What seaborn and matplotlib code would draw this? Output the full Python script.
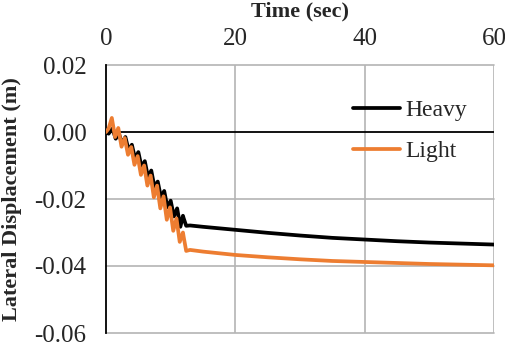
import matplotlib
matplotlib.use("Agg")
import matplotlib.pyplot as plt
import seaborn as sns
import pandas as pd
from matplotlib.ticker import FixedLocator, FuncFormatter

# ---- data ----
heavy_t = [0, 0.4, 1.0, 1.5, 2.0, 2.5, 3.0, 3.5, 4.0, 4.5, 5.0, 5.5, 6.0, 6.5, 7.0,
           7.5, 8.0, 8.5, 9.0, 9.5, 10.0, 10.5, 11.0, 11.5, 11.9, 12.0, 12.4,
           13, 15, 20, 25, 30, 35, 40, 45, 50, 55, 60]
heavy_v = [0.0, -0.0005, 0.0010, -0.0020, -0.0005, -0.0035, -0.0015, -0.0055, -0.0038,
           -0.0080, -0.0060, -0.0105, -0.0087, -0.0135, -0.0115, -0.0165, -0.0148,
           -0.0195, -0.0176, -0.0225, -0.0205, -0.0252, -0.0228, -0.0283, -0.0250,
           -0.0257, -0.0280, -0.0279, -0.0283, -0.0292, -0.0301, -0.0309, -0.0316,
           -0.0321, -0.0326, -0.0330, -0.0333, -0.0336]

light_t = [0, 0.4, 0.9, 1.4, 1.9, 2.4, 2.9, 3.4, 3.9, 4.4, 4.9, 5.4, 5.9, 6.4, 6.9,
           7.4, 7.9, 8.4, 8.9, 9.4, 9.9, 10.4, 10.9, 11.4, 11.9, 12.0, 12.4,
           13, 15, 20, 25, 30, 35, 40, 45, 50, 55, 60]
light_v = [0.0, 0.0010, 0.0042, -0.0015, 0.0012, -0.0044, -0.0018, -0.0068, -0.0045,
           -0.0098, -0.0072, -0.0128, -0.0100, -0.0160, -0.0130, -0.0195, -0.0160,
           -0.0228, -0.0192, -0.0262, -0.0225, -0.0295, -0.0258, -0.0328, -0.0300,
           -0.0312, -0.0355, -0.0352, -0.0357, -0.0367, -0.0374, -0.0380, -0.0385,
           -0.0388, -0.0391, -0.0394, -0.0396, -0.0398]

series_names = ["Heavy", "Light"]
series_colors = ["#000000", "#ED7D31"]
x_ticks = [0, 20, 40, 60]
y_ticks = [0.02, 0.00, -0.02, -0.04, -0.06]
x_label = "Time (sec)"
y_label = "Lateral Displacement (m)"

df = pd.concat([
    pd.DataFrame({"t": heavy_t, "v": heavy_v, "series": series_names[0]}),
    pd.DataFrame({"t": light_t, "v": light_v, "series": series_names[1]}),
], ignore_index=True)

sns.set_style("white")
plt.rcParams["font.family"] = ["Liberation Serif", "DejaVu Serif"]
plt.rcParams["axes.unicode_minus"] = False

fig = plt.figure(figsize=(5.05, 3.44), dpi=100)
ax = fig.add_axes([106 / 505, 1 - 333 / 344, 388 / 505, 268 / 344])

grid_c = "#B4B4B4"
for xv in x_ticks[1:]:
    ax.axvline(xv, color=grid_c, lw=1.2, zorder=0)
for yv in y_ticks:
    if yv != 0:
        ax.axhline(yv, color=grid_c, lw=1.2, zorder=0, clip_on=False)
ax.axhline(0, color="black", lw=1.3, zorder=1)

sns.lineplot(data=df, x="t", y="v", hue="series", palette=series_colors,
             hue_order=series_names, estimator=None, sort=False, lw=2.7, ax=ax, zorder=3)

ax.set_xlim(0, 60)
ax.set_ylim(-0.06, 0.02)
ax.xaxis.tick_top()
ax.xaxis.set_label_position("top")
ax.xaxis.set_major_locator(FixedLocator(x_ticks))
ax.yaxis.set_major_locator(FixedLocator(y_ticks))
ax.yaxis.set_major_formatter(FuncFormatter(lambda v, p: f"{v:.2f}" if abs(v) > 1e-9 else "0.00"))
ax.tick_params(axis="x", length=0, labelsize=18, pad=11)
ax.tick_params(axis="y", length=0, labelsize=18, pad=14)
ax.set_xlabel(x_label, fontsize=16, fontweight="bold", labelpad=8)
ax.set_ylabel(y_label, fontsize=16, fontweight="bold", labelpad=9)

for s in ["top", "right", "bottom"]:
    ax.spines[s].set_visible(False)
ax.spines["left"].set_color("black")
ax.spines["left"].set_linewidth(1.3)

ax.legend(frameon=False, loc="upper left", bbox_to_anchor=(0.637, 0.872),
          borderpad=0, borderaxespad=0, handlelength=2.0, handletextpad=0.2,
          labelspacing=0.85, fontsize=17, title=None)

fig.savefig("out.png", dpi=100)
